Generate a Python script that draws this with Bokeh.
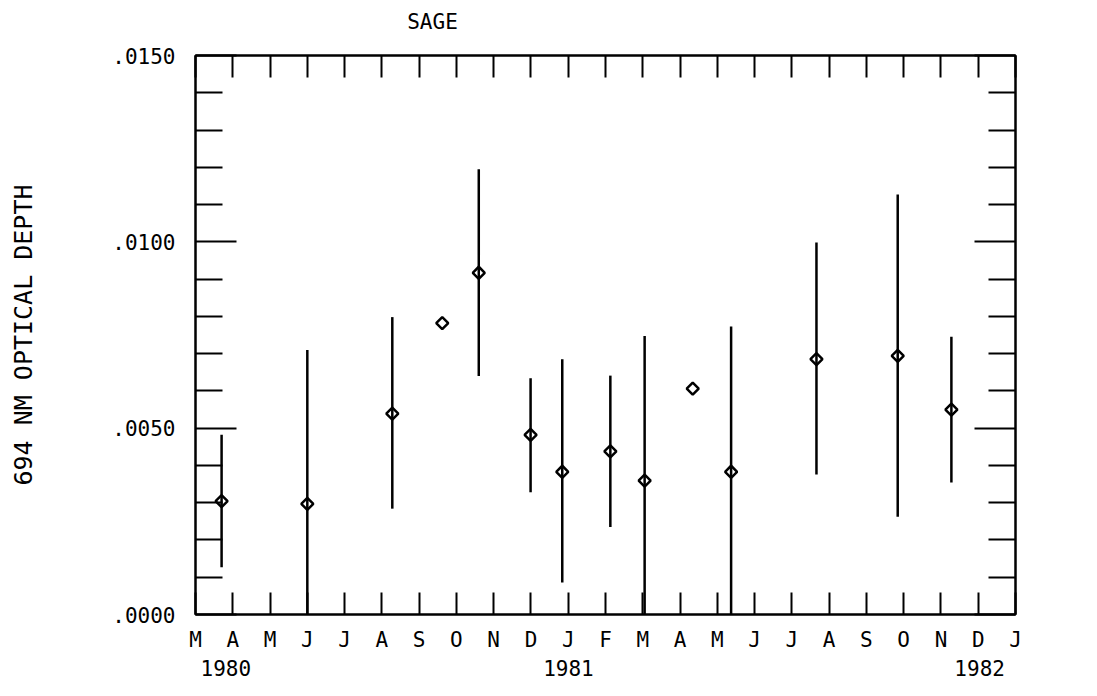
import numpy as np
from bokeh.plotting import figure
from bokeh.layouts import column
from bokeh.models import (ColumnDataSource, Range1d, LinearAxis, FixedTicker,
                          Whisker)
from bokeh.core.properties import value
from bokeh.embed import file_html
from bokeh.resources import INLINE

FONT = "DejaVu Sans Mono"

# ---- texts / axis labels ----
title_text = "SAGE"
month_labels = ["M", "A", "M", "J", "J", "A", "S", "O", "N", "D", "J",
                "F", "M", "A", "M", "J", "J", "A", "S", "O", "N", "D", "J"]
year_labels = ["1980", "1981", "1982"]
year_positions = [0, 10, 22]          # months after March 1980
y_tick_values = [0.0, 0.005, 0.010, 0.015]
y_tick_labels = [".0000", ".0050", ".0100", ".0150"]
y_minor_values = [0.001, 0.002, 0.003, 0.004, 0.006, 0.007, 0.008, 0.009,
                  0.011, 0.012, 0.013, 0.014]

# ---- data (x = months after 1 March 1980) ----
month = [0.70, 3.00, 5.28, 6.62, 7.60, 8.99, 9.84, 11.13, 12.05, 13.34,
         14.37, 16.66, 18.84, 20.28]
depth = [0.00304, 0.00297, 0.00539, 0.00782, 0.00917, 0.00482, 0.00383,
         0.00438, 0.00359, 0.00606, 0.00383, 0.00685, 0.00694, 0.00550]
err_low = [0.00127, -0.00121, 0.00284, None, 0.00640, 0.00328, 0.00086,
           0.00235, -0.00024, None, 0.00000, 0.00376, 0.00262, 0.00354]
err_high = [0.00482, 0.00710, 0.00798, None, 0.01195, 0.00634, 0.00685,
            0.00641, 0.00747, None, 0.00773, 0.00998, 0.01127, 0.00745]

pts = ColumnDataSource(dict(x=month, y=depth))
bx, blo, bhi = [], [], []
for m, lo, hi in zip(month, err_low, err_high):
    if lo is not None:
        bx.append(m); blo.append(lo); bhi.append(hi)
bars = ColumnDataSource(dict(x=bx, lo=blo, hi=bhi))

# ---- layout geometry (pixels) ----
W = 1081
LEFT, RIGHT = 195, 1015          # frame edges
H_HEAD = 40
H_MAIN = 614
H_YEARS = 26
X0, X1 = 0, 22
px_per_month = (RIGHT - LEFT) / (X1 - X0)
TITLE_CENTER_PX = 432

def blank(fig):
    fig.outline_line_color = None
    fig.grid.visible = False
    fig.background_fill_color = "white"
    fig.border_fill_color = "white"

# ---- header row with the title ----
p0 = figure(width=W, height=H_HEAD, output_backend="svg", toolbar_location=None,
            title=None, x_range=Range1d(X0, X1), y_range=Range1d(0, 1),
            x_axis_location=None, y_axis_location=None,
            min_border_left=LEFT, min_border_right=W - RIGHT,
            min_border_top=0, min_border_bottom=0)
blank(p0)
tsrc = ColumnDataSource(dict(x=[(TITLE_CENTER_PX - LEFT) / px_per_month],
                             y=[0.35], t=[title_text]))
p0.text(x="x", y="y", text="t", source=tsrc, text_font=value(FONT),
        text_font_size="21px", text_align="center", text_baseline="alphabetic",
        y_offset=-5, text_color="black")

# ---- main plot ----
p = figure(width=W, height=H_MAIN, output_backend="svg", toolbar_location=None,
           title=None, x_range=Range1d(X0, X1), y_range=Range1d(0, 0.015),
           min_border_left=LEFT, min_border_right=W - RIGHT,
           min_border_top=15, min_border_bottom=40)
p.background_fill_color = "white"
p.border_fill_color = "white"
p.outline_line_color = "black"
p.outline_line_width = 2
p.grid.visible = False

month_ticks = list(range(len(month_labels)))

def style_x(ax, labels):
    ax.ticker = FixedTicker(ticks=month_ticks)
    ax.major_tick_in = 22
    ax.major_tick_out = 0
    ax.minor_tick_in = 0
    ax.minor_tick_out = 0
    ax.axis_line_width = 2
    ax.axis_line_color = "black"
    ax.major_tick_line_width = 2
    ax.major_tick_line_color = "black"
    if labels:
        ax.major_label_overrides = {i: m for i, m in enumerate(month_labels)}
        ax.major_label_text_font = FONT
        ax.major_label_text_font_size = "21px"
        ax.major_label_text_color = "black"
        ax.major_label_standoff = 13
    else:
        ax.major_label_text_color = None
        ax.major_label_text_font_size = "1px"
        ax.major_label_standoff = 0

def style_y(ax, labels):
    ax.ticker = FixedTicker(ticks=y_tick_values, minor_ticks=y_minor_values)
    ax.major_tick_in = 41
    ax.major_tick_out = 0
    ax.minor_tick_in = 27
    ax.minor_tick_out = 0
    ax.axis_line_width = 2
    ax.axis_line_color = "black"
    ax.major_tick_line_width = 2
    ax.minor_tick_line_width = 2
    ax.major_tick_line_color = "black"
    ax.minor_tick_line_color = "black"
    if labels:
        ax.major_label_overrides = {v: t for v, t in zip(y_tick_values, y_tick_labels)}
        ax.major_label_text_font = FONT
        ax.major_label_text_font_size = "21px"
        ax.major_label_text_color = "black"
        ax.major_label_standoff = 20
        ax.axis_label = "694 NM OPTICAL DEPTH"
        ax.axis_label_text_font = FONT
        ax.axis_label_text_font_size = "25px"
        ax.axis_label_text_font_style = "normal"
        ax.axis_label_text_color = "black"
        ax.axis_label_standoff = 71
    else:
        ax.major_label_text_color = None
        ax.major_label_text_font_size = "1px"
        ax.major_label_standoff = 0

style_x(p.xaxis[0], True)
style_y(p.yaxis[0], True)
top = LinearAxis()
style_x(top, False)
p.add_layout(top, "above")
right = LinearAxis()
style_y(right, False)
p.add_layout(right, "right")

# markers and error bars
p.scatter("x", "y", source=pts, marker="square", angle=np.pi / 4, size=8.5,
          fill_color="white", line_color="black", line_width=2.5)
p.add_layout(Whisker(source=bars, base="x", lower="lo", upper="hi",
                     dimension="height", line_color="black", line_width=2.5,
                     upper_head=None, lower_head=None, level="overlay"))

# ---- year row: same month scale, frame widened so the labels fit ----
Y_LEFT, Y_RIGHT = 183, 1075
p2 = figure(width=W, height=H_YEARS, output_backend="svg", toolbar_location=None,
            title=None,
            x_range=Range1d(X0 - (LEFT - Y_LEFT) / px_per_month,
                            X1 + (Y_RIGHT - RIGHT) / px_per_month),
            y_range=Range1d(0, 1),
            x_axis_location=None, y_axis_location=None,
            min_border_left=Y_LEFT, min_border_right=W - Y_RIGHT,
            min_border_top=0, min_border_bottom=0)
blank(p2)
ysrc = ColumnDataSource(dict(x=year_positions, y=[0.5] * len(year_positions),
                             t=year_labels))
p2.text(x="x", y="y", text="t", source=ysrc, text_font=value(FONT),
        text_font_size="21px", text_align="left", text_baseline="middle",
        x_offset=-6, text_color="black")

layout = column(p0, p, p2, spacing=0)
open("out.html", "w").write(file_html(layout, INLINE))
